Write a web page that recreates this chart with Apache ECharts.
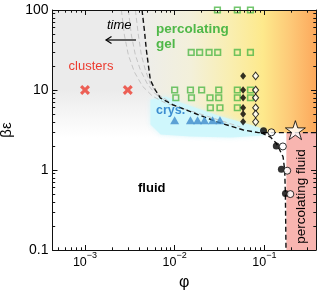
<!DOCTYPE html>
<html><head><meta charset="utf-8">
<script src="https://cdn.jsdelivr.net/npm/echarts@6/dist/echarts.min.js"></script>
<style>html,body{margin:0;padding:0;background:#fff}#c{width:319px;height:293px}</style>
</head><body><div id="c"></div>
<script>
// ---- axes ----
const xMin = 0.000434, xMax = 0.377, yMin = 0.1, yMax = 100;
const xMajorTicks = [0.001, 0.01, 0.1];
const xMinorTicks = [5e-4,6e-4,7e-4,8e-4,9e-4,2e-3,3e-3,4e-3,5e-3,6e-3,7e-3,8e-3,9e-3,0.02,0.03,0.04,0.05,0.06,0.07,0.08,0.09,0.2,0.3];
const yMajorTicks = [0.1, 1, 10, 100];
const yMinorTicks = [0.2,0.3,0.4,0.5,0.6,0.7,0.8,0.9,2,3,4,5,6,7,8,9,20,30,40,50,60,70,80,90];

// ---- data ----
const clusterPhi = [0.001, 0.003];
const clusterBe  = [10, 10];

const gelSqPhi = [0.03,0.05,0.07,
  0.0153,0.019,0.0242,0.0302,0.05,0.07,
  0.01,0.015,0.02,0.031,0.05,0.07,
  0.0103,0.0154,0.0248,0.031,0.05,0.07,
  0.025,0.032,0.05];
const gelSqBe = [100,100,100,
  29.5,29.5,29.5,29.5,29.5,29.5,
  10,10,10,10,10,10,
  8,8,8,8,8,8,
  6,6,6];

const crysPhi = [0.01, 0.015, 0.018, 0.0215, 0.0265, 0.032];
const crysBe  = [4.2, 4.2, 4.2, 4.2, 4.2, 4.2];

const diaFillPhi = [0.058,0.058,0.058,0.058,0.058,0.058];
const diaFillBe  = [15,10,8,6,5,4];
const diaOpenPhi = [0.08,0.08,0.08,0.08,0.08,0.08];
const diaOpenBe  = [15,10,8,6,5,4];

const circFillPhi = [0.098, 0.136, 0.155, 0.172];
const circFillBe  = [3.1, 2.0, 1.02, 0.51];
const circOpenPhi = [0.12, 0.161, 0.18, 0.195];
const circOpenBe  = [2.96, 1.97, 0.98, 0.5];

const starPhi = [0.222];
const starBe  = [3.15];

// gel boundary (black dashed)
const gelLinePhi = [0.004328,0.004592,0.004835,0.005088,0.005358,0.006089,0.006933,0.009672,0.02995,0.05838,0.0858,0.377];
const gelLineBe  = [100,56.2,31.6,20.5,13.3,10,7.94,6.49,3.98,3.16,2.93,2.93];
// percolation boundary (black dashed)
const percLinePhi = [0.092,0.1168,0.1363,0.1618,0.1686,0.1717,0.1745];
const percLineBe  = [2.93,2.585,2.157,1.466,1.0,0.516,0.1];
// time lines (gray dashed)
const timeAPhi = [0.002544,0.002748,0.003045,0.003552,0.004362,0.005639,0.007872,0.01935,0.05408];
const timeABe  = [100,48.7,27.4,16.8,11.2,8.41,6.88,5.01,3.45];
const timeBPhi = [0.003045,0.003289,0.003645,0.004144,0.004961,0.006089,0.00829];
const timeBBe  = [100,48.7,27.4,17.8,11.9,8.91,7.08];
const timeCPhi = [0.003645,0.003936,0.004252,0.004711,0.005358,0.006412,0.008507];
const timeCBe  = [100,48.7,27.4,17.8,11.9,8.91,7.29];

// regions
const crysRegPhi = [0.00537,0.00792,0.01168,0.0304,0.0813,0.105,0.0975,0.0426,0.0151,0.00697,0.00537];
const crysRegBe  = [7.6,8.3,6.98,4.8,3.5,3.12,2.7,2.55,2.62,2.78,3.7];
const grayRegPhi = [xMin, 0.1, 0.1, xMin];
const grayRegBe  = [100, 100, 2.5, 2.5];
const pinkRegPhi = [0.176, xMax, xMax, 0.176];
const pinkRegBe  = [2.93, 2.93, 0.1, 0.1];

const FONT = '"Liberation Sans", Arial, sans-serif';
const pts = (a, b) => a.map((p, i) => [p, b[i]]);

function poly(phis, bes, style, z) {
  return {
    type: 'custom', z: z, silent: true, xAxisIndex: 0, yAxisIndex: 0,
    data: [[phis[0], bes[0]]],
    renderItem: (params, api) => ({
      type: 'polygon',
      shape: { points: phis.map((p, i) => api.coord([p, bes[i]])) },
      style: style
    })
  };
}
function dashLine(phis, bes, color, width, z) {
  return { type: 'line', z: z, silent: true, data: pts(phis, bes), showSymbol: false, symbol: 'none',
    lineStyle: { color: color, width: width, type: [5, 3] }, animation: false };
}
function scat(phis, bes, symbol, size, itemStyle, z) {
  return { type: 'scatter', z: z, silent: true, data: pts(phis, bes), symbol: symbol, symbolSize: size,
    itemStyle: itemStyle, animation: false };
}
function xAxisDef(pos, ticks, len, showLine, label) {
  const a = { type: 'log', logBase: 10, min: xMin, max: xMax, position: pos, z: 10,
    axisLine: { show: showLine, onZero: false, lineStyle: { color: '#111', width: 1 } },
    axisTick: { show: true, inside: true, length: len, customValues: ticks, lineStyle: { color: '#111', width: 1 } },
    axisLabel: { show: false }, splitLine: { show: false }, minorTick: { show: false } };
  if (label) {
    a.axisLabel = { show: true, customValues: ticks, margin: 1,
      formatter: v => { const e = Math.round(Math.log10(v)); return '{b|10}{s|' + (e < 0 ? '\u2212' : '') + Math.abs(e) + '}'; },
      rich: { b: { fontSize: 12.5, fontFamily: FONT, color: '#000', verticalAlign: 'bottom', lineHeight: 18 },
              s: { fontSize: 9, fontFamily: FONT, color: '#000', verticalAlign: 'top', lineHeight: 8 } } };
    a.name = '\u03c6'; a.nameLocation = 'middle'; a.nameGap = 25;
    a.nameTextStyle = { fontSize: 16, fontFamily: FONT, color: '#000' };
  }
  return a;
}
function yAxisDef(pos, ticks, len, showLine, label) {
  const a = { type: 'log', logBase: 10, min: yMin, max: yMax, position: pos, z: 10,
    axisLine: { show: showLine, onZero: false, lineStyle: { color: '#111', width: 1 } },
    axisTick: { show: true, inside: true, length: len, customValues: ticks, lineStyle: { color: '#111', width: 1 } },
    axisLabel: { show: false }, splitLine: { show: false }, minorTick: { show: false } };
  if (label) {
    a.axisLabel = { show: true, customValues: ticks, margin: 4, fontSize: 14, fontFamily: FONT, color: '#000',
      formatter: v => String(v) };
    a.name = '\u03b2\u03b5'; a.nameLocation = 'middle'; a.nameGap = 28;
    a.nameTextStyle = { fontSize: 15, fontFamily: FONT, color: '#000' };
  }
  return a;
}

const gelGrad = new echarts.graphic.LinearGradient(0, 0, 1, 0, [
  { offset: 0, color: '#ededeb' }, { offset: 0.28, color: '#f3f0da' }, { offset: 0.51, color: '#f9eeb0' },
  { offset: 0.694, color: '#fde98c' }, { offset: 0.856, color: '#fdc877' }, { offset: 1, color: '#fca95c' }]);
const grayGrad = new echarts.graphic.LinearGradient(0, 0, 0, 1, [
  { offset: 0, color: '#ebebeb' }, { offset: 0.62, color: '#ebebeb' }, { offset: 0.82, color: '#f6f6f6' }, { offset: 1, color: '#ffffff' }]);

const gelRegPhi = gelLinePhi.concat([xMax]);
const gelRegBe = gelLineBe.concat([100]);

const green = '#4fb848';
const chart = echarts.init(document.getElementById('c'), null, { renderer: 'canvas' });
chart.setOption({
  animation: false,
  textStyle: { fontFamily: FONT },
  grid: { left: 52.5, right: 3, top: 10, bottom: 43, outerBoundsMode: 'none' },
  xAxis: [
    xAxisDef('bottom', xMajorTicks, 5, true, true),
    xAxisDef('bottom', xMinorTicks, 2.7, false, false),
    xAxisDef('top', xMajorTicks, 5, true, false),
    xAxisDef('top', xMinorTicks, 2.7, false, false)
  ],
  yAxis: [
    yAxisDef('left', yMajorTicks, 5, true, true),
    yAxisDef('left', yMinorTicks, 2.7, false, false),
    yAxisDef('right', yMajorTicks, 5, true, false),
    yAxisDef('right', yMinorTicks, 2.7, false, false)
  ],
  series: [
    poly(grayRegPhi, grayRegBe, { fill: grayGrad }, 1),
    poly(gelRegPhi, gelRegBe, { fill: gelGrad }, 2),
    poly(pinkRegPhi, pinkRegBe, { fill: '#f8b5b0' }, 2),
    poly(crysRegPhi, crysRegBe, { fill: 'rgba(206,246,252,0.92)', shadowBlur: 5, shadowColor: 'rgba(210,246,252,0.9)' }, 3),
    dashLine(timeAPhi, timeABe, '#c4c4c4', 1, 4),
    dashLine(timeBPhi, timeBBe, '#c4c4c4', 1, 4),
    dashLine(timeCPhi, timeCBe, '#c4c4c4', 1, 4),
    dashLine(gelLinePhi, gelLineBe, '#111', 1.4, 5),
    dashLine(percLinePhi, percLineBe, '#111', 1.4, 5),
    scat(clusterPhi, clusterBe, 'path://M0,2.2 L2.2,0 L10,7.8 L7.8,10 Z M7.8,0 L10,2.2 L2.2,10 L0,7.8 Z', 10, { color: '#ec3c30' }, 6),
    scat(gelSqPhi, gelSqBe, 'rect', 5.6, { color: 'rgba(0,0,0,0)', borderColor: green, borderWidth: 1.6 }, 6),
    scat(crysPhi, crysBe, 'triangle', [9, 8], { color: '#3f8bcb' }, 6),
    scat(diaFillPhi, diaFillBe, 'diamond', [6, 7.5], { color: '#000' }, 6),
    scat(diaOpenPhi, diaOpenBe, 'diamond', [6, 7.5], { color: '#fff', borderColor: '#000', borderWidth: 1 }, 6),
    scat(circFillPhi, circFillBe, 'circle', 7, { color: '#000' }, 6),
    scat(circOpenPhi, circOpenBe, 'circle', 7, { color: '#fff', borderColor: '#000', borderWidth: 1 }, 7),
    Object.assign(scat(starPhi, starBe, 'path://M50,0 L61.2,34.5 L97.6,34.5 L68.2,55.9 L79.4,90.5 L50,69.1 L20.6,90.5 L31.8,55.9 L2.4,34.5 L38.8,34.5 Z', 20,
      { color: '#fff', borderColor: '#000', borderWidth: 1 }, 7), { symbolKeepAspect: true })
  ],
  graphic: [
    { type: 'text', z: 20, x: 91, y: 66.7, style: { text: 'clusters', fill: '#ec3c30', fontSize: 13, fontFamily: FONT, align: 'center', verticalAlign: 'middle' } },
    { type: 'text', z: 20, x: 107, y: 25.7, style: { text: 'time', fill: '#000', fontSize: 13, fontStyle: 'italic', fontFamily: FONT, align: 'left', verticalAlign: 'middle' } },
    { type: 'polyline', z: 20, shape: { points: [[136, 40], [106.5, 40]] }, style: { stroke: '#000', lineWidth: 1.2, fill: null } },
    { type: 'polyline', z: 20, shape: { points: [[111.5, 36.5], [106, 40], [111.5, 43.5]] }, style: { stroke: '#000', lineWidth: 1.2, fill: null } },
    { type: 'text', z: 20, x: 156, y: 29, style: { text: 'percolating', fill: green, fontSize: 13.5, fontWeight: 'bold', fontFamily: FONT, align: 'left', verticalAlign: 'middle' } },
    { type: 'text', z: 20, x: 156, y: 44, style: { text: 'gel', fill: green, fontSize: 13.5, fontWeight: 'bold', fontFamily: FONT, align: 'left', verticalAlign: 'middle' } },
    { type: 'text', z: 20, x: 156, y: 111, style: { text: 'crys.', fill: '#3b8dd0', fontSize: 12.5, fontWeight: 'bold', fontFamily: FONT, align: 'left', verticalAlign: 'middle' } },
    { type: 'text', z: 20, x: 138, y: 188, style: { text: 'fluid', fill: '#000', fontSize: 13, fontWeight: 'bold', fontFamily: FONT, align: 'left', verticalAlign: 'middle' } },
    { type: 'text', z: 20, x: 301.5, y: 196.5, rotation: Math.PI / 2, style: { text: 'percolating fluid', fill: '#000', fontSize: 13.5, fontFamily: FONT, align: 'center', verticalAlign: 'middle' } }
  ]
});
</script>
</body></html>
